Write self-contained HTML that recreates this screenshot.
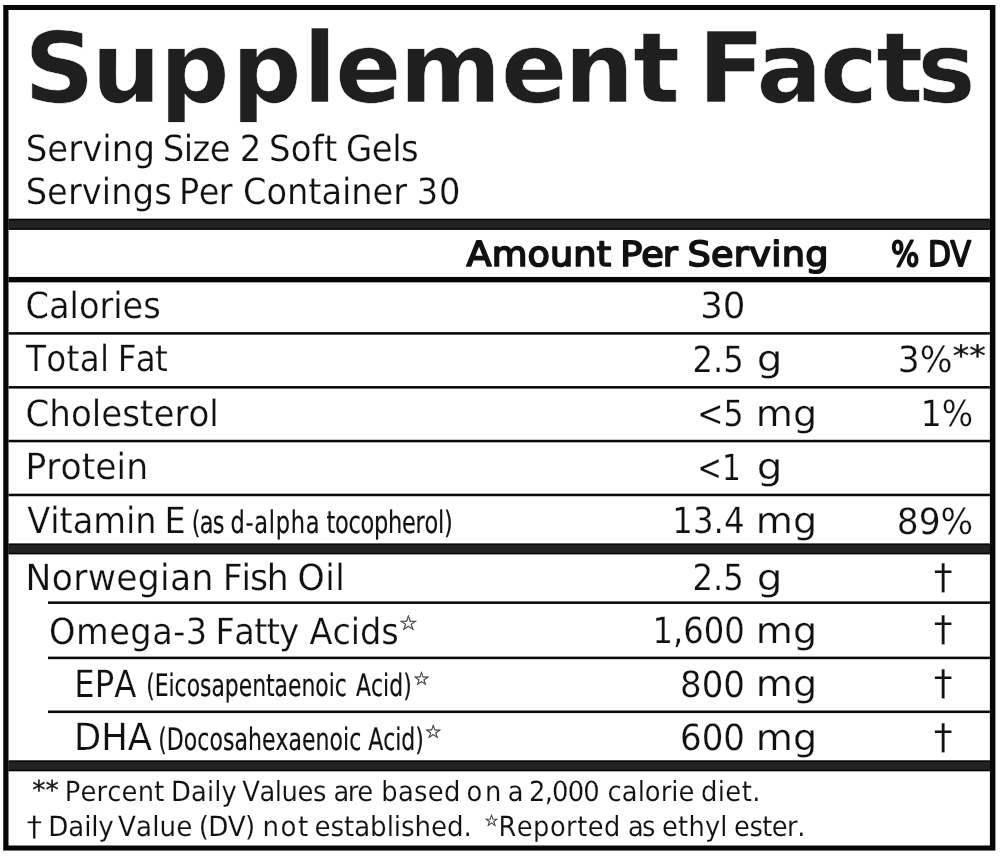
<!DOCTYPE html>
<html lang="en">
<head>
<meta charset="utf-8">
<title>Supplement Facts</title>
<style>
html,body{margin:0;padding:0;background:#fff;}
body{width:1000px;height:857px;overflow:hidden;font-family:"DejaVu Sans","Liberation Sans",sans-serif;}
svg{display:block;}
text{white-space:pre;}
</style>
</head>
<body>
<svg width="1000" height="857" viewBox="0 0 1000 857" font-family='"DejaVu Sans", "Liberation Sans", sans-serif' fill="#111" text-rendering="geometricPrecision" role="img" aria-label="Supplement Facts">
<rect x="3.25" y="5.00" width="992.15" height="845.55" fill="#070707"/>
<rect x="8.50" y="10.00" width="981.40" height="835.50" fill="#fff"/>
<rect x="8.50" y="218.70" width="981.40" height="11.20" fill="#030303"/>
<rect x="8.50" y="220.20" width="981.40" height="8.20" fill="#222"/>
<rect x="8.50" y="543.40" width="981.40" height="11.00" fill="#030303"/>
<rect x="8.50" y="544.90" width="981.40" height="8.00" fill="#222"/>
<rect x="8.50" y="760.30" width="981.40" height="11.00" fill="#030303"/>
<rect x="8.50" y="761.80" width="981.40" height="8.00" fill="#222"/>
<rect x="8.50" y="276.95" width="981.40" height="5.40" fill="#050505"/>
<rect x="8.50" y="332.12" width="981.40" height="2.55" fill="#0a0a0a"/>
<rect x="8.50" y="386.03" width="981.40" height="2.55" fill="#0a0a0a"/>
<rect x="8.50" y="439.78" width="981.40" height="2.55" fill="#0a0a0a"/>
<rect x="8.50" y="493.68" width="981.40" height="2.55" fill="#0a0a0a"/>
<rect x="48.00" y="601.38" width="941.90" height="2.55" fill="#0a0a0a"/>
<rect x="48.00" y="656.62" width="941.90" height="2.55" fill="#0a0a0a"/>
<rect x="48.00" y="710.52" width="941.90" height="2.55" fill="#0a0a0a"/>
<text x="24.16 91.43 159.75 231.75 302.89 335.2 399.41 500.95 564.61 633.17 679.78 697.92 756.59 820.02 876.52 917.57" y="102.40" font-size="97.5" font-weight="bold" fill="#1f1f1f" stroke="#fff" stroke-width="0.5" vector-effect="non-scaling-stroke">Supplement Facts</text>
<text transform="scale(0.9377 1)" x="27.34 50.38 72.72 87.67 109.15 119.27 142.28 165.26 173.45 195.85 205.32 223.74 246.01 255.59 278.62 286.76 310 332.4 345.41 359.6 368.97 396.49 418.23 427.76" y="161.30" font-size="36.2" stroke="#fff" stroke-width="0.25" vector-effect="non-scaling-stroke">Serving Size 2 Soft Gels</text>
<text transform="scale(0.9293 1)" x="27.61 50.71 73.1 88.1 109.64 119.82 142.88 165.98 184.84 192.7 213.85 235.44 250.33 261.47 286.72 308.83 331.74 345.9 368.05 378.07 400.98 423.22 438.1 448.53 472.36" y="203.80" font-size="36.2" stroke="#fff" stroke-width="0.25" vector-effect="non-scaling-stroke">Servings Per Container 30</text>
<text transform="scale(1.0593 1)" x="440.44 464.19 497.98 519.23 541.24 563.25 576.82 585.53 605.34 625.58 639.8 648.94 671.19 692.76 707.27 728.02 737.92 760.13" y="266.20" font-size="34.6" stroke="#111" stroke-width="1.7" stroke-linejoin="round" vector-effect="non-scaling-stroke">Amount Per Serving</text>
<text transform="scale(0.8614 1)" x="1034.48 1067.36 1077.3 1103.4" y="266.20" font-size="34.6" stroke="#111" stroke-width="1.9" stroke-linejoin="round" vector-effect="non-scaling-stroke">% DV</text>
<text transform="scale(0.9275 1)" x="27.59 52.87 75.05 85.11 107.25 122.14 132.19 154.47" y="318.00" font-size="36.2" stroke="#fff" stroke-width="0.25" vector-effect="non-scaling-stroke">Calories</text>
<text transform="scale(0.9841 1)" x="711.5 734.53" y="318.00" font-size="36.2" stroke="#fff" stroke-width="0.25" vector-effect="non-scaling-stroke">30</text>
<text transform="scale(0.9024 1)" x="28.78 51.27 73.8 88.38 110.94 121 130.4 150.46 171.88" y="371.40" font-size="36.2" stroke="#fff" stroke-width="0.25" vector-effect="non-scaling-stroke">Total Fat</text>
<text transform="scale(0.8936 1)" x="774.93 797.96 809.47" y="371.80" font-size="36.2" stroke="#fff" stroke-width="0.25" vector-effect="non-scaling-stroke">2.5</text>
<text transform="scale(1.1219 1)" x="674.61" y="371.40" font-size="36.2" stroke="#fff" stroke-width="0.25" vector-effect="non-scaling-stroke">g</text>
<text transform="scale(0.9540 1)" x="940.94 963.97" y="371.80" font-size="36.2" stroke="#fff" stroke-width="0.25" vector-effect="non-scaling-stroke">3%</text>
<text transform="scale(1.1248 1)" x="847.03 861.73" y="366.40" font-size="29.4" stroke="#111" stroke-width="0.3" stroke-linejoin="round" vector-effect="non-scaling-stroke">**</text>
<text transform="scale(0.9422 1)" x="27.13 52.4 75.35 97.49 107.55 129.82 148.68 162.88 185.15 200.03 222.18" y="425.60" font-size="36.2" stroke="#fff" stroke-width="0.25" vector-effect="non-scaling-stroke">Cholesterol</text>
<text transform="scale(0.8746 1)" x="796.95 827.28" y="425.80" font-size="36.2" stroke="#fff" stroke-width="0.25" vector-effect="non-scaling-stroke">&lt;5</text>
<text transform="scale(1.0539 1)" x="717.17 752.43" y="425.60" font-size="36.2" stroke="#fff" stroke-width="0.25" vector-effect="non-scaling-stroke">mg</text>
<text transform="scale(0.9144 1)" x="1006.82 1029.85" y="425.80" font-size="36.2" stroke="#fff" stroke-width="0.25" vector-effect="non-scaling-stroke">1%</text>
<text transform="scale(0.9552 1)" x="26.68 48.5 63.39 85.54 99.73 122 132.06" y="479.40" font-size="36.2" stroke="#fff" stroke-width="0.25" vector-effect="non-scaling-stroke">Protein</text>
<text transform="scale(0.8173 1)" x="853.07 883.4" y="479.80" font-size="36.2" stroke="#fff" stroke-width="0.25" vector-effect="non-scaling-stroke">&lt;1</text>
<text transform="scale(1.1219 1)" x="674.61" y="479.40" font-size="36.2" stroke="#fff" stroke-width="0.25" vector-effect="non-scaling-stroke">g</text>
<text transform="scale(0.9281 1)" x="29.32 54.07 64.12 78.3 100.47 135.72 145.77 168.71 177.36" y="533.40" font-size="36.2" stroke="#fff" stroke-width="0.25" vector-effect="non-scaling-stroke">Vitamin E</text>
<text transform="scale(0.7259 1)" x="264.17 275.25 293.24 309.39 317.47 338.13 350.3 370.29 379.89 400.55 421.19 440.19 449.76 461.53 480.1 496.75 515.33 534.62 553.87 572.55 584.91 603.48 611.7" y="533.40" font-size="31.0" stroke="#111" stroke-width="0.2" stroke-linejoin="round" vector-effect="non-scaling-stroke">(as d-alpha tocopherol)</text>
<text transform="scale(0.8962 1)" x="750.17 773.2 796.23 807.74" y="533.20" font-size="36.2" stroke="#fff" stroke-width="0.25" vector-effect="non-scaling-stroke">13.4</text>
<text transform="scale(1.0539 1)" x="717.17 752.43" y="533.40" font-size="36.2" stroke="#fff" stroke-width="0.25" vector-effect="non-scaling-stroke">mg</text>
<text transform="scale(0.9506 1)" x="943.36 966.39 989.42" y="533.80" font-size="36.2" stroke="#fff" stroke-width="0.25" vector-effect="non-scaling-stroke">89%</text>
<text transform="scale(0.9548 1)" x="26.69 54.11 76.6 91.82 121.77 144.38 167.7 178.1 200.62 223.56 233.43 252.99 261.78 279.38 302.32 311.61 340.64 351.23" y="590.00" font-size="36.2" stroke="#fff" stroke-width="0.25" vector-effect="non-scaling-stroke">Norwegian Fish Oil</text>
<text transform="scale(0.8936 1)" x="774.93 797.96 809.47" y="590.40" font-size="36.2" stroke="#fff" stroke-width="0.25" vector-effect="non-scaling-stroke">2.5</text>
<text transform="scale(1.1219 1)" x="674.61" y="590.00" font-size="36.2" stroke="#fff" stroke-width="0.25" vector-effect="non-scaling-stroke">g</text>
<text transform="scale(1.0652 1)" x="876.65" y="589.00" font-size="35.6" stroke="#fff" stroke-width="0.25" vector-effect="non-scaling-stroke">†</text>
<text transform="scale(0.9278 1)" x="52.8 81.83 117.64 140.45 163.97 186.7 200.3 223.33 232.34 252.47 273.96 287.47 300.97 322.39 333.69 358.34 378.12 388.06 410.92" y="643.60" font-size="36.2" stroke="#fff" stroke-width="0.25" vector-effect="non-scaling-stroke">Omega-3 Fatty Acids</text>
<text transform="scale(1.0499 1)" x="379.88" y="630.40" font-size="20.5" fill="#4a4a4a" stroke="#4a4a4a" stroke-width="0.5" stroke-linejoin="round" vector-effect="non-scaling-stroke">☆</text>
<text transform="scale(0.8910 1)" x="732.37 755.4 766.91 789.94 812.97" y="643.10" font-size="36.2" stroke="#fff" stroke-width="0.25" vector-effect="non-scaling-stroke">1,600</text>
<text transform="scale(1.0539 1)" x="717.17 752.43" y="642.80" font-size="36.2" stroke="#fff" stroke-width="0.25" vector-effect="non-scaling-stroke">mg</text>
<text transform="scale(1.0652 1)" x="876.65" y="640.90" font-size="35.6" stroke="#fff" stroke-width="0.25" vector-effect="non-scaling-stroke">†</text>
<text transform="scale(0.8652 1)" x="85.87 109.51 132.06" y="696.60" font-size="37.4" stroke="#fff" stroke-width="0.25" vector-effect="non-scaling-stroke">EPA</text>
<text transform="scale(0.7066 1)" x="206.92 218.99 238.55 247.14 264.16 283.1 299.22 318.19 337.85 356.89 376.52 388.64 407.62 426.66 446.28 465.23 473.81 490.86 503.69 525 542.15 550.86 570.64" y="696.40" font-size="31.0" stroke="#111" stroke-width="0.2" stroke-linejoin="round" vector-effect="non-scaling-stroke">(Eicosapentaenoic Acid)</text>
<text transform="scale(1.0224 1)" x="403.97" y="684.60" font-size="18.5" fill="#4a4a4a" stroke="#4a4a4a" stroke-width="0.5" stroke-linejoin="round" vector-effect="non-scaling-stroke">☆</text>
<text transform="scale(0.9395 1)" x="723.83 746.86 769.89" y="696.80" font-size="36.2" stroke="#fff" stroke-width="0.25" vector-effect="non-scaling-stroke">800</text>
<text transform="scale(1.0539 1)" x="717.17 752.43" y="696.40" font-size="36.2" stroke="#fff" stroke-width="0.25" vector-effect="non-scaling-stroke">mg</text>
<text transform="scale(1.0652 1)" x="876.65" y="695.40" font-size="35.6" stroke="#fff" stroke-width="0.25" vector-effect="non-scaling-stroke">†</text>
<text transform="scale(0.9456 1)" x="78.27 107.06 135.19" y="750.30" font-size="37.4" stroke="#fff" stroke-width="0.25" vector-effect="non-scaling-stroke">DHA</text>
<text transform="scale(0.7100 1)" x="222.84 234.97 258.87 277.87 294.95 313.95 330.14 349.17 368.85 387.96 406.34 425.37 444.47 464.16 483.16 491.8 508.85 518.8 539.87 556.79 565.27 584.82" y="750.00" font-size="31.0" stroke="#111" stroke-width="0.2" stroke-linejoin="round" vector-effect="non-scaling-stroke">(Docosahexaenoic Acid)</text>
<text transform="scale(1.0506 1)" x="404.13" y="737.60" font-size="18.5" fill="#4a4a4a" stroke="#4a4a4a" stroke-width="0.5" stroke-linejoin="round" vector-effect="non-scaling-stroke">☆</text>
<text transform="scale(0.9406 1)" x="722.96 745.99 769.02" y="750.40" font-size="36.2" stroke="#fff" stroke-width="0.25" vector-effect="non-scaling-stroke">600</text>
<text transform="scale(1.0539 1)" x="717.17 752.43" y="750.00" font-size="36.2" stroke="#fff" stroke-width="0.25" vector-effect="non-scaling-stroke">mg</text>
<text transform="scale(1.0652 1)" x="876.65" y="749.00" font-size="35.6" stroke="#fff" stroke-width="0.25" vector-effect="non-scaling-stroke">†</text>
<text transform="scale(1.0184 1)" x="31.58 44.58" y="798.90" font-size="26" stroke="#111" stroke-width="0.3" stroke-linejoin="round" vector-effect="non-scaling-stroke">**</text>
<text transform="scale(0.9325 1)" x="69.39 86.25 103.46 115.01 130.4 147.6 165.31 176.17 183.39 204.84 221.94 229.77 237.59 253.98 259.67 278.19 294.73 302 319.12 335.74 350.17 357.53 373.06 383.01 400.05 408.8 426.72 444.02 458.79 476.16 493.75 500.3 520 537.55 544.56 561.53 567.36 584.12 592.06 608.82 625.59 643.21 651.51 666.78 683.79 691.53 708.52 719.95 727.68 744.72 751.67 769.72 777.88 795.39 806.71" y="801.00" font-size="27.7" stroke="#fff" stroke-width="0.12" vector-effect="non-scaling-stroke">Percent Daily Values are based on a 2,000 calorie diet.</text>
<text transform="scale(1.1053 1)" x="23.89" y="836.00" font-size="28.2" stroke="#fff" stroke-width="0.25" vector-effect="non-scaling-stroke">†</text>
<text transform="scale(0.9443 1)" x="51.22 72.36 89.15 96.65 104.16 120.55 124.89 144.01 161.16 169.02 186.75 203.79 210.4 220.56 241.25 259.55 270.35 278.04 297.12 315.59 326.45 333.03 349.98 364.32 375.08 391.96 409.45 417.05 424.65 438.99 456.45 473.4 490.89" y="836.00" font-size="27.7" stroke="#fff" stroke-width="0.12" vector-effect="non-scaling-stroke">Daily Value (DV) not established.</text>
<text transform="scale(1.0191 1)" x="475.11" y="825.60" font-size="16" fill="#4a4a4a" stroke="#4a4a4a" stroke-width="0.5" stroke-linejoin="round" vector-effect="non-scaling-stroke">☆</text>
<text transform="scale(0.9274 1)" x="537.42 557.22 574.81 592.93 610.43 622.36 633.77 651.36 668.94 677.14 692.17 706.6 713.94 731.21 742.3 760.08 776.7 784.4 791.57 808.06 821.93 832.23 848.72 859.55" y="836.00" font-size="27.7" stroke="#fff" stroke-width="0.12" vector-effect="non-scaling-stroke">Reported as ethyl ester.</text>
</svg>
</body>
</html>
